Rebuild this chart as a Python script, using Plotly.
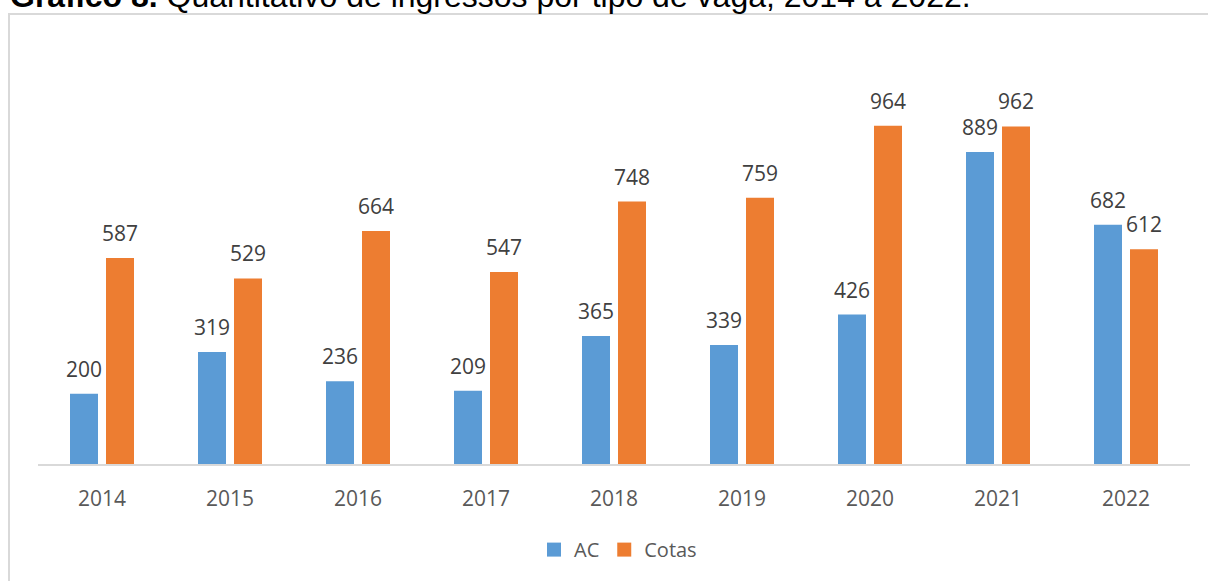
import plotly.graph_objects as go

years = ["2014", "2015", "2016", "2017", "2018", "2019", "2020", "2021", "2022"]
ac = [200, 319, 236, 209, 365, 339, 426, 889, 682]
cotas = [587, 529, 664, 547, 748, 759, 964, 962, 612]

AC_COLOR = "#5B9BD5"
COTAS_COLOR = "#ED7D31"

W, H = 1208, 581
ML, MR, MT, MB = 38, 18, 40, 115
PW, PH = W - ML - MR, H - MT - MB
PX_PER_UNIT = 0.3525
YMAX = PH / PX_PER_UNIT

def px_x(p):
    return (p - ML) / PW

def px_y(p):
    return (H - MB - p) / PH

label_font = dict(family="Open Sans", size=21, color="#404040")

fig = go.Figure()
fig.add_trace(go.Bar(x=years, y=ac, name="AC", marker=dict(color=AC_COLOR, line=dict(width=0)),
                     showlegend=False, hoverinfo="x+y"))
fig.add_trace(go.Bar(x=years, y=cotas, name="Cotas", marker=dict(color=COTAS_COLOR, line=dict(width=0)),
                     showlegend=False, hoverinfo="x+y"))

# legend entries with larger square swatches
for nm, col in (("AC", AC_COLOR), ("Cotas", COTAS_COLOR)):
    fig.add_trace(go.Scatter(x=[years[0]], y=[None], mode="markers", name=nm,
                             marker=dict(symbol="square", size=14, color=col)))

# data labels (category index positions on the category axis)
for series, shift in ((ac, -18), (cotas, 18)):
    for i, v in enumerate(series):
        fig.add_annotation(x=i, y=v, xref="x", yref="y", text=str(v), showarrow=False,
                           xanchor="center", yanchor="bottom", xshift=shift, yshift=9,
                           font=label_font)

fig.update_layout(
    width=W, height=H,
    margin=dict(l=ML, r=MR, t=MT, b=MB),
    paper_bgcolor="white", plot_bgcolor="white",
    barmode="group", bargap=0.4375, bargroupgap=0.222,
    showlegend=True,
    legend=dict(orientation="h", x=px_x(534), xanchor="left", xref="paper",
                y=px_y(552), yanchor="middle",
                font=dict(family="Open Sans", size=20, color="#595959"),
                itemwidth=30, traceorder="normal"),
    xaxis=dict(type="category", categoryorder="array", categoryarray=years,
               range=[-0.5, len(years) - 0.5],
               showgrid=False, showline=True, linecolor="#D9D9D9", linewidth=2,
               ticks="outside", ticklen=15, tickcolor="rgba(0,0,0,0)",
               tickfont=dict(family="Open Sans", size=21, color="#595959")),
    yaxis=dict(range=[0, YMAX], visible=False, showgrid=False, zeroline=False),
)

fig.add_shape(type="rect", xref="paper", yref="paper",
              x0=px_x(9), x1=px_x(1260), y0=px_y(14), y1=px_y(640),
              line=dict(color="#D9D9D9", width=2), fillcolor="rgba(0,0,0,0)", layer="below")

fig.add_annotation(xref="paper", yref="paper", x=px_x(8), y=px_y(15.5),
                   xanchor="left", yanchor="bottom", showarrow=False,
                   text="<b>Gráfico 8.</b> Quantitativo de ingressos por tipo de vaga, 2014 a 2022.",
                   font=dict(family="Liberation Sans", size=32, color="black"))

fig.write_html("out.html", config={"displayModeBar": False},
               post_script="document.body.style.margin='0';")
